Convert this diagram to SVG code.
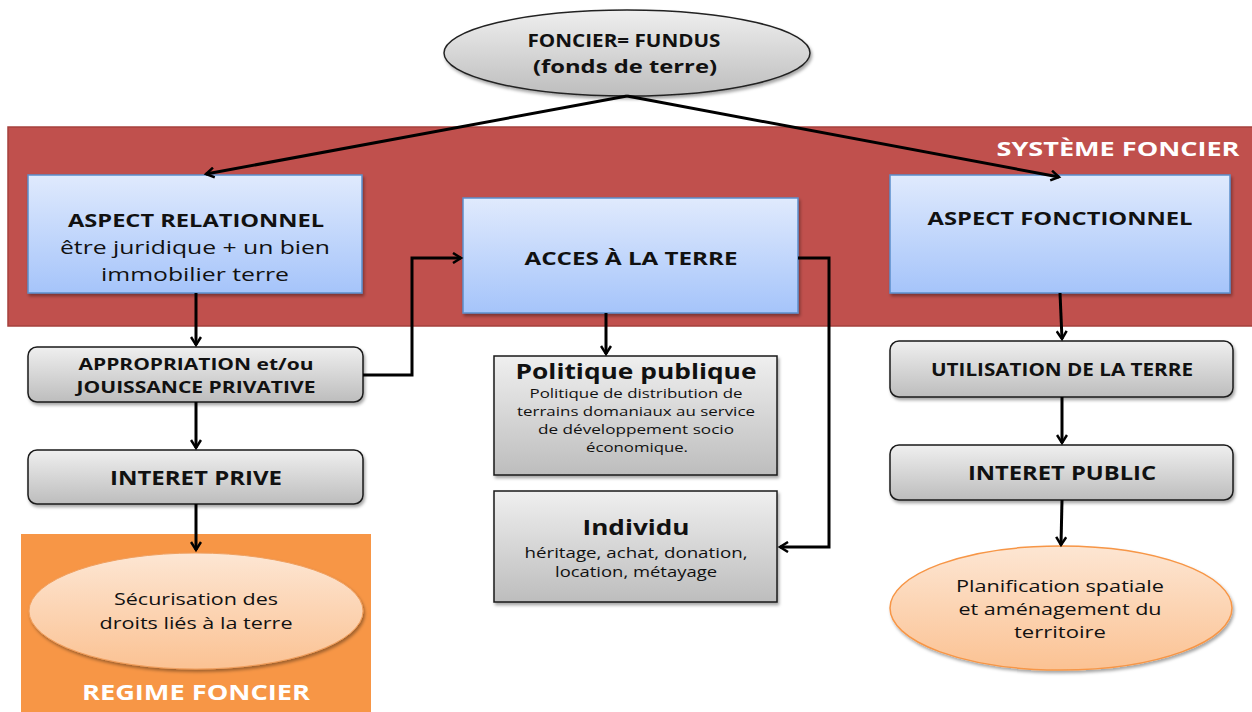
<svg xmlns="http://www.w3.org/2000/svg" width="1252" height="712" viewBox="0 0 1252 712">
<style>
text{font-family:"Open Sans","Noto Sans","Liberation Sans",sans-serif;fill:#111;text-anchor:middle}
.b{font-weight:bold}
.w{fill:#fff;font-weight:bold}
.blue{fill:url(#gBlue);stroke:#5B8FCB;stroke-width:1.5}
.gray{fill:url(#gGray);stroke:#1a1a1a;stroke-width:1.5}
.conn{fill:none;stroke:#000;stroke-width:3;marker-end:url(#arr)}
</style>
<defs>
<linearGradient id="gBlue" x1="0" y1="0" x2="0" y2="1"><stop offset="0" stop-color="#E0EAFD"/><stop offset="1" stop-color="#A5C4FA"/></linearGradient>
<linearGradient id="gGray" x1="0" y1="0" x2="0" y2="1"><stop offset="0" stop-color="#EFEFEF"/><stop offset="1" stop-color="#BDBDBD"/></linearGradient>
<linearGradient id="gOr" x1="0" y1="0" x2="0" y2="1"><stop offset="0" stop-color="#FDE6D3"/><stop offset="1" stop-color="#FBC293"/></linearGradient>
<filter id="sh" x="-10%" y="-10%" width="120%" height="130%"><feDropShadow dx="1.5" dy="2.5" stdDeviation="1.5" flood-color="#000" flood-opacity="0.35"/></filter>
<marker id="arr" markerWidth="12" markerHeight="12" refX="9" refY="6" orient="auto" markerUnits="userSpaceOnUse"><path d="M1,1 L9,6 L1,11" fill="none" stroke="#000" stroke-width="2.5"/></marker>
</defs>

<g id="systeme-foncier">
<rect x="8" y="127" width="1250" height="199" fill="#C0504D" stroke="#A5403D" stroke-width="1.5"/>
<text x="1118" y="156" class="w" font-size="20" textLength="243" lengthAdjust="spacingAndGlyphs">SYSTÈME FONCIER</text>
</g>

<g id="regime-foncier">
<rect x="18" y="531" width="356" height="184" fill="#fff" opacity="0.8"/>
<rect x="21" y="534" width="350" height="180" fill="#F79646"/>
<text x="196" y="700" class="w" font-size="21" textLength="228" lengthAdjust="spacingAndGlyphs">REGIME FONCIER</text>
</g>

<g id="foncier">
<ellipse cx="627" cy="53" rx="183" ry="43" fill="url(#gGray)" stroke="#222" stroke-width="1.5" filter="url(#sh)"/>
<text x="624" y="47" class="b" font-size="17" textLength="193" lengthAdjust="spacingAndGlyphs">FONCIER= FUNDUS</text>
<text x="625" y="73" class="b" font-size="18" textLength="184" lengthAdjust="spacingAndGlyphs">(fonds de terre)</text>
</g>

<g id="aspect-relationnel">
<rect x="28" y="175" width="334" height="118" class="blue" filter="url(#sh)"/>
<text x="196" y="227" class="b" font-size="18" textLength="256" lengthAdjust="spacingAndGlyphs">ASPECT RELATIONNEL</text>
<text x="195" y="254" font-size="18" textLength="270" lengthAdjust="spacingAndGlyphs">être juridique + un bien</text>
<text x="195" y="281" font-size="18" textLength="188" lengthAdjust="spacingAndGlyphs">immobilier terre</text>
</g>

<g id="acces">
<rect x="463" y="198" width="335" height="115" class="blue" filter="url(#sh)"/>
<text x="631" y="265" class="b" font-size="18" textLength="213" lengthAdjust="spacingAndGlyphs">ACCES À LA TERRE</text>
</g>

<g id="aspect-fonctionnel">
<rect x="890" y="175" width="340" height="118" class="blue" filter="url(#sh)"/>
<text x="1060" y="225" class="b" font-size="18" textLength="265" lengthAdjust="spacingAndGlyphs">ASPECT FONCTIONNEL</text>
</g>

<g id="appropriation">
<rect x="28" y="347" width="335" height="55" rx="9" class="gray" filter="url(#sh)"/>
<text x="196" y="370" class="b" font-size="16" textLength="235" lengthAdjust="spacingAndGlyphs">APPROPRIATION et/ou</text>
<text x="196" y="393" class="b" font-size="16" textLength="239" lengthAdjust="spacingAndGlyphs">JOUISSANCE PRIVATIVE</text>
</g>

<g id="interet-prive">
<rect x="28" y="450" width="335" height="54" rx="9" class="gray" filter="url(#sh)"/>
<text x="196" y="485" class="b" font-size="20" textLength="172" lengthAdjust="spacingAndGlyphs">INTERET PRIVE</text>
</g>

<g id="securisation">
<ellipse cx="196" cy="611" rx="167" ry="58" fill="url(#gOr)" stroke="#F0A060" stroke-width="1" filter="url(#sh)"/>
<text x="196" y="605" font-size="16" textLength="164" lengthAdjust="spacingAndGlyphs">Sécurisation des</text>
<text x="196" y="629" font-size="16" textLength="193" lengthAdjust="spacingAndGlyphs">droits liés à la terre</text>
</g>

<g id="politique">
<rect x="494" y="356" width="283" height="119" class="gray" filter="url(#sh)"/>
<text x="636" y="379" class="b" font-size="21" textLength="241" lengthAdjust="spacingAndGlyphs">Politique publique</text>
<text x="636" y="398" font-size="13" textLength="213" lengthAdjust="spacingAndGlyphs">Politique de distribution de</text>
<text x="636" y="416" font-size="13" textLength="238" lengthAdjust="spacingAndGlyphs">terrains domaniaux au service</text>
<text x="636" y="434" font-size="13" textLength="196" lengthAdjust="spacingAndGlyphs">de développement  socio</text>
<text x="637" y="452" font-size="13" textLength="102" lengthAdjust="spacingAndGlyphs">économique.</text>
</g>

<g id="individu">
<rect x="494" y="491" width="283" height="111" class="gray" filter="url(#sh)"/>
<text x="636" y="535" class="b" font-size="21" textLength="107" lengthAdjust="spacingAndGlyphs">Individu</text>
<text x="636" y="558" font-size="15" textLength="223" lengthAdjust="spacingAndGlyphs">héritage, achat, donation,</text>
<text x="636" y="577" font-size="15" textLength="162" lengthAdjust="spacingAndGlyphs">location, métayage</text>
</g>

<g id="utilisation">
<rect x="890" y="341" width="343" height="56" rx="9" class="gray" filter="url(#sh)"/>
<text x="1062" y="376" class="b" font-size="17" textLength="262" lengthAdjust="spacingAndGlyphs">UTILISATION DE LA TERRE</text>
</g>

<g id="interet-public">
<rect x="890" y="445" width="343" height="55" rx="9" class="gray" filter="url(#sh)"/>
<text x="1062" y="480" class="b" font-size="20" textLength="188" lengthAdjust="spacingAndGlyphs">INTERET PUBLIC</text>
</g>

<g id="planification">
<ellipse cx="1061" cy="608" rx="171" ry="62" fill="url(#gOr)" stroke="#F79646" stroke-width="1.5" filter="url(#sh)"/>
<text x="1060" y="592" font-size="16" textLength="208" lengthAdjust="spacingAndGlyphs">Planification spatiale</text>
<text x="1060" y="615" font-size="16" textLength="203" lengthAdjust="spacingAndGlyphs">et aménagement du</text>
<text x="1060" y="638" font-size="16" textLength="92" lengthAdjust="spacingAndGlyphs">territoire</text>
</g>

<g id="connectors">
<path class="conn" d="M627,96 L206,174"/>
<path class="conn" d="M627,96 L1059,177"/>
<path class="conn" d="M196,293 L196,345"/>
<path class="conn" d="M196,402 L196,448"/>
<path class="conn" d="M196,504 L196,550"/>
<path class="conn" d="M363,375 L412,375 L412,258 L461,258"/>
<path class="conn" d="M606,313 L606,354"/>
<path class="conn" d="M798,258 L829,258 L829,547 L780,547"/>
<path class="conn" d="M1060,293 L1062,339"/>
<path class="conn" d="M1062,397 L1062,443"/>
<path class="conn" d="M1062,500 L1061,545"/>
</g>
</svg>
